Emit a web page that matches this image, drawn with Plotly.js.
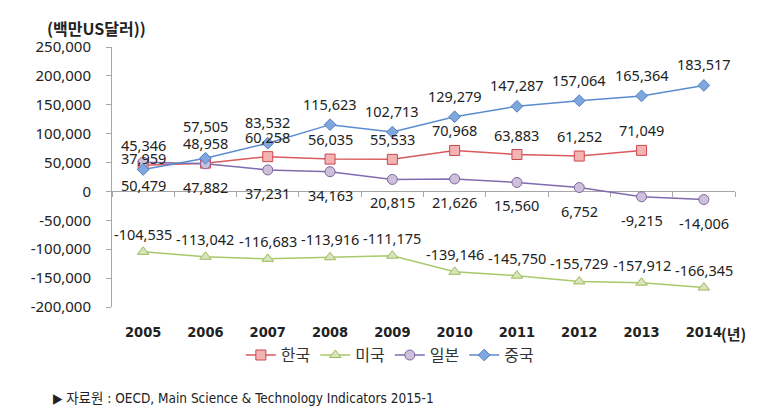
<!DOCTYPE html>
<html><head><meta charset="utf-8">
<script src="https://cdn.plot.ly/plotly-3.0.1.min.js"></script>
<style>html,body{margin:0;padding:0;background:#fff}#chart{width:774px;height:417px}</style>
</head><body><div id="chart"></div>
<script>
const years = ['2005','2006','2007','2008','2009','2010','2011','2012','2013','2014'];
const korea = [45346,48958,60258,56035,55533,70968,63883,61252,71049,null];
const usa = [-104535,-113042,-116683,-113916,-111175,-139146,-145750,-155729,-157912,-166345];
const japan = [50479,47882,37231,34163,20815,21626,15560,6752,-9215,-14006];
const china = [37959,57505,83532,115623,102713,129279,147287,157064,165364,183517];
const seriesNames = ['한국','미국','일본','중국'];
const yTicks = [250000,200000,150000,100000,50000,0,-50000,-100000,-150000,-200000];
const yTitle = '(백만US달러))';
const xUnit = '(년)';
const sourceText = '▶ 자료원 : OECD, Main Science & Technology Indicators 2015-1';

const fmt = v => (v === null ? '' : v.toLocaleString('en-US'));
const labelFont = {family: 'Noto Sans, sans-serif', size: 14.5, color: '#222'};
const narrow = 'DejaVu Sans Condensed, Noto Sans CJK KR, sans-serif';

function series(name, vals, color, mColor, mFill, symbol, size) {
  return {
    x: years, y: vals, name: name, type: 'scatter', mode: 'lines+markers',
    line: {color: color, width: 1.5},
    marker: {symbol: symbol, size: size, color: mFill, line: {color: mColor, width: 1}},
    cliponaxis: false, hoverinfo: 'x+y'
  };
}

const data = [
  series(seriesNames[0], korea, '#D9595C', '#C9484C', '#F4B3B3', 'square', 10),
  series(seriesNames[1], usa, '#A9C96B', '#9BBB59', '#D7E4BD', 'triangle-up', 10),
  series(seriesNames[2], japan, '#7F6BAE', '#8064A2', '#CCC0DA', 'circle', 10),
  series(seriesNames[3], china, '#5B8BD0', '#4F81BD', '#7FA6DE', 'diamond', 9),
  {x: years, y: china, xaxis: 'x2', yaxis: 'y', mode: 'markers', marker: {opacity: 0},
   showlegend: false, hoverinfo: 'skip'}
];

// label offsets (pixels) per series; a few labels nudged as in the original
function labelShift(series, i) {
  if (series === 'china' && i === 0) return 12;
  if (series === 'china' && i === 1) return 32;
  return {korea: 20, usa: 18, japan: -23, china: 21}[series];
}
const labelAnns = [];
[['korea', korea], ['usa', usa], ['japan', japan], ['china', china]].forEach(([key, vals]) => {
  vals.forEach((v, i) => {
    if (v === null) return;
    // category axes place annotations by category index
    labelAnns.push({x: i, y: v, xref: 'x', yref: 'y', text: fmt(v), showarrow: false,
      xanchor: 'center', yanchor: 'middle', yshift: labelShift(key, i), font: labelFont});
  });
});

const grey = '#A6A6A6';
const layout = {
  width: 774, height: 417,
  margin: {l: 112, r: 39, t: 47, b: 110},
  paper_bgcolor: '#fff', plot_bgcolor: '#fff',
  showlegend: true,
  xaxis: {
    type: 'category', range: [-0.5, 9.5],
    anchor: 'free', position: 200000 / 450000,
    tickson: 'boundaries', ticks: 'outside', ticklen: 5, tickcolor: grey,
    showline: true, linecolor: grey, linewidth: 1,
    showticklabels: false, showgrid: false, zeroline: false, layer: 'below traces'
  },
  xaxis2: {
    type: 'category', range: [-0.5, 9.5], overlaying: 'x', anchor: 'y', side: 'bottom',
    tickvals: years, ticktext: years,
    ticks: 'outside', ticklen: 12, tickcolor: 'rgba(0,0,0,0)',
    showline: false, showgrid: false, zeroline: false,
    tickfont: {family: narrow, size: 14.5, color: '#222', weight: 'bold'}
  },
  yaxis: {
    range: [-200000, 250000],
    tickvals: yTicks, ticktext: yTicks.map(fmt),
    showline: true, linecolor: grey, linewidth: 1,
    ticks: 'outside', ticklen: 5, tickcolor: grey,
    ticklabelstandoff: 12,
    showgrid: false, zeroline: false,
    tickfont: {family: 'Noto Sans, sans-serif', size: 15, color: '#222'}
  },
  legend: {
    orientation: 'h', xref: 'paper', x: 0.446, xanchor: 'center',
    y: -0.185, yanchor: 'middle',
    font: {family: 'Noto Sans CJK KR, sans-serif', size: 16, color: '#333'},
    itemwidth: 30, bgcolor: 'rgba(0,0,0,0)'
  },
  annotations: labelAnns.concat([
    {text: yTitle, xref: 'paper', yref: 'paper', x: -0.1075, xanchor: 'left', y: 1.073, yanchor: 'middle',
     showarrow: false, font: {family: 'Noto Sans CJK KR, sans-serif', size: 16, color: '#222', weight: 'bold'}},
    {text: xUnit, xref: 'paper', yref: 'paper', x: (719 - 112) / 623, xanchor: 'left', y: -0.1, yanchor: 'middle',
     showarrow: false, font: {family: 'Noto Sans CJK KR, sans-serif', size: 15, color: '#222', weight: 'bold'}},
    {text: sourceText, xref: 'paper', yref: 'paper', x: -0.098, xanchor: 'left', y: -0.35, yanchor: 'middle',
     showarrow: false, font: {family: narrow, size: 13.5, color: '#222'}}
  ])
};

Plotly.newPlot('chart', data, layout, {displayModeBar: false, staticPlot: true});
</script>
</body></html>
